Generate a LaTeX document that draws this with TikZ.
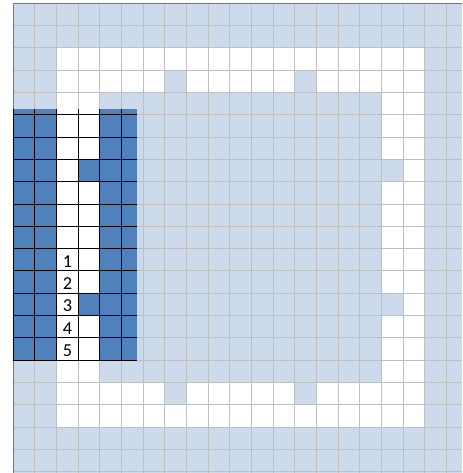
\documentclass[tikz,border=0pt]{standalone}
\usepackage{fontspec}
\setmainfont{Carlito}
\usetikzlibrary{positioning}
\definecolor{celeste}{RGB}{205,218,235}
\definecolor{azul}{RGB}{79,129,189}
\definecolor{rejilla}{RGB}{191,191,191}
\definecolor{borde}{RGB}{118,118,118}

\begin{document}
\begin{tikzpicture}[x=16.24pt, y=-16.725pt,
  celda/.style={line width=0.75pt, draw=rejilla},
  negra/.style={line width=0.75pt, draw=black},
  numero/.style={anchor=base west, inner sep=0pt, font=\fontsize{13.7}{16}\selectfont}]
\useasboundingbox (-0.614,-0.148) rectangle (20.725,21.06);

% fondo celeste y marco blanco
\fill[celeste] (0,0) rectangle (20.725,21.06);
\fill[white] (2,2) rectangle (19,19);
\fill[celeste] (4,4) rectangle (17,17);
% casillas celestes en el marco
\fill[celeste] (7,3) rectangle (8,4);
\fill[celeste] (13,3) rectangle (14,4);
\fill[celeste] (17,7) rectangle (18,8);
\fill[celeste] (17,13) rectangle (18,14);
\fill[celeste] (7,17) rectangle (8,18);
\fill[celeste] (13,17) rectangle (14,18);

% rejilla gris
\foreach \i in {1,...,20} \draw[celda] (\i,0) -- (\i,21.06);
\foreach \j in {1,...,21} \draw[celda] (0,\j) -- (20.725,\j);
\draw[line width=0.9pt, draw=borde] (0,21.06) -- (0,0) -- (20.725,0);

% bloque azul (izquierda)
\fill[azul] (0,4.75) rectangle (5.7,16);
\fill[white] (2,4.75) rectangle (4,16);
\fill[azul] (3,7) rectangle (4,8);
\fill[azul] (3,13) rectangle (4,14);
\foreach \i in {0,...,5} \draw[negra] (\i,4.75) -- (\i,16);
\foreach \j in {5,...,16} \draw[negra] (0,\j) -- (5.7,\j);

% numeros
\node[numero] (n1) at (2.28,11.84) {1};
\node[numero] (n2) at (2.28,12.84) {2};
\node[numero] (n3) at (2.28,13.84) {3};
\node[numero] (n4) at (2.28,14.84) {4};
\node[numero] (n5) at (2.28,15.84) {5};
\end{tikzpicture}
\end{document}
